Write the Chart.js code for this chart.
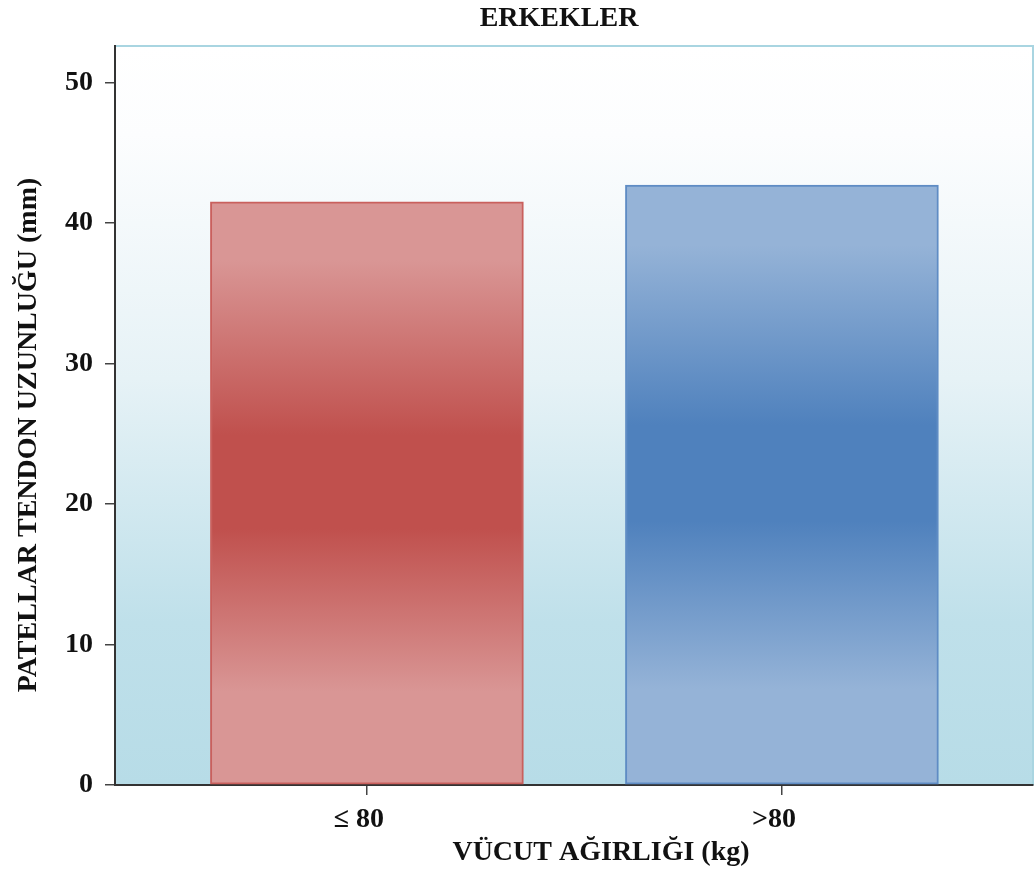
<!DOCTYPE html>
<html>
<head>
<meta charset="utf-8">
<style>
  html, body { margin: 0; padding: 0; background: #ffffff; }
  #wrap { width: 1036px; height: 875px; }
</style>
<script src="https://cdn.jsdelivr.net/npm/chart.js@4/dist/chart.umd.min.js"></script>
</head>
<body>
<div id="wrap"><canvas id="c" width="1036" height="875"></canvas></div>
<script>
// Mean patellar tendon length by body weight group (men)
const categories = ['\u2264 80', '>80'];
const tendonLength = [41.5, 42.7];
const yTicks = [0, 10, 20, 30, 40, 50];

const chartTitle = 'ERKEKLER';
const xTitle = 'V\u00dcCUT A\u011eIRLI\u011eI (kg)';
const yTitle = 'PATELLAR TENDON UZUNLU\u011eU (mm)';

const FONT = '"Liberation Serif", "DejaVu Serif", serif';
const FONT_SIZE = 28;

// vertical gradient per bar: pale at the ends, saturated in the middle
function makeBarFill(light, dark) {
  return function (context) {
    const chart = context.chart;
    const ys = chart.scales.y;
    if (!chart.chartArea || !ys) return dark;
    const v = tendonLength[context.dataIndex];
    const top = ys.getPixelForValue(v);
    const bottom = ys.getPixelForValue(0);
    if (!isFinite(top) || !isFinite(bottom) || bottom - top < 1) return dark;
    const g = chart.ctx.createLinearGradient(0, top, 0, bottom);
    g.addColorStop(0, light);
    g.addColorStop(0.1, light);
    g.addColorStop(0.4, dark);
    g.addColorStop(0.56, dark);
    g.addColorStop(0.84, light);
    g.addColorStop(1, light);
    return g;
  };
}

const fills = [
  makeBarFill('#d99695', '#c0504d'),
  makeBarFill('#95b3d7', '#4f81bd')
];
const borders = ['#c9605d', '#5f8cc4'];

const backdrop = {
  id: 'backdrop',
  beforeDraw(chart) {
    const { ctx, chartArea: a } = chart;
    const g = ctx.createLinearGradient(0, a.top, 0, a.bottom);
    g.addColorStop(0, '#ffffff');
    g.addColorStop(0.12, '#fcfdfe');
    g.addColorStop(0.45, '#e6f2f6');
    g.addColorStop(0.78, '#bfe0ea');
    g.addColorStop(1, '#b7dce7');
    ctx.save();
    ctx.fillStyle = g;
    ctx.fillRect(a.left, a.top, a.right - a.left, a.bottom - a.top);
    // frame on top and right
    ctx.strokeStyle = '#a9d5e1';
    ctx.lineWidth = 2;
    ctx.beginPath();
    ctx.moveTo(a.left, a.top);
    ctx.lineTo(a.right, a.top);
    ctx.lineTo(a.right, a.bottom);
    ctx.stroke();
    ctx.restore();
  },
  afterDraw(chart) {
    const { ctx } = chart;
    ctx.save();
    ctx.fillStyle = '#111111';
    ctx.font = 'bold ' + FONT_SIZE + 'px ' + FONT;
    ctx.textAlign = 'center';
    ctx.textBaseline = 'alphabetic';
    ctx.fillText(chartTitle, 559, 26);
    ctx.fillText(xTitle, 601, 860);
    ctx.translate(36, 435);
    ctx.rotate(-Math.PI / 2);
    ctx.fillText(yTitle, 0, 0);
    ctx.restore();
  }
};

new Chart(document.getElementById('c'), {
  type: 'bar',
  data: {
    datasets: [{
      data: tendonLength.map((v, i) => ({ x: i + 1, y: v })),
      backgroundColor: (ctx) => fills[ctx.dataIndex](ctx),
      borderColor: borders,
      borderWidth: 2,
      borderSkipped: false,
      barThickness: 313
    }]
  },
  options: {
    responsive: false,
    animation: false,
    layout: { padding: { top: 46, right: 3, left: 0, bottom: 0 } },
    plugins: { legend: { display: false }, title: { display: false }, tooltip: { enabled: false } },
    scales: {
      x: {
        type: 'linear',
        offset: false,
        min: 0.393,
        max: 2.605,
        afterFit(scale) { scale.height = 90; },
        afterBuildTicks(scale) { scale.ticks = categories.map((c, i) => ({ value: i + 1 })); },
        ticks: {
          callback: (v) => categories[Math.round(v) - 1] || '',
          font: { family: FONT, size: FONT_SIZE, weight: 'bold' },
          color: '#111111',
          padding: 8,
          labelOffset: -8,
          maxRotation: 0,
          autoSkip: false
        },
        grid: { offset: false, drawOnChartArea: false, drawTicks: true, tickLength: 10, color: '#444444', lineWidth: 1.5 },
        border: { display: true, color: '#333333', width: 2 }
      },
      y: {
        min: 0,
        max: 52.6,
        afterFit(scale) { scale.width = 115; },
        afterBuildTicks(scale) { scale.ticks = yTicks.map(v => ({ value: v })); },
        ticks: {
          font: { family: FONT, size: FONT_SIZE, weight: 'bold' },
          color: '#111111',
          padding: 12
        },
        grid: { drawOnChartArea: false, drawTicks: true, tickLength: 10, color: '#444444', lineWidth: 1.5 },
        border: { display: true, color: '#333333', width: 2 }
      }
    }
  },
  plugins: [backdrop]
});
</script>
</body>
</html>
